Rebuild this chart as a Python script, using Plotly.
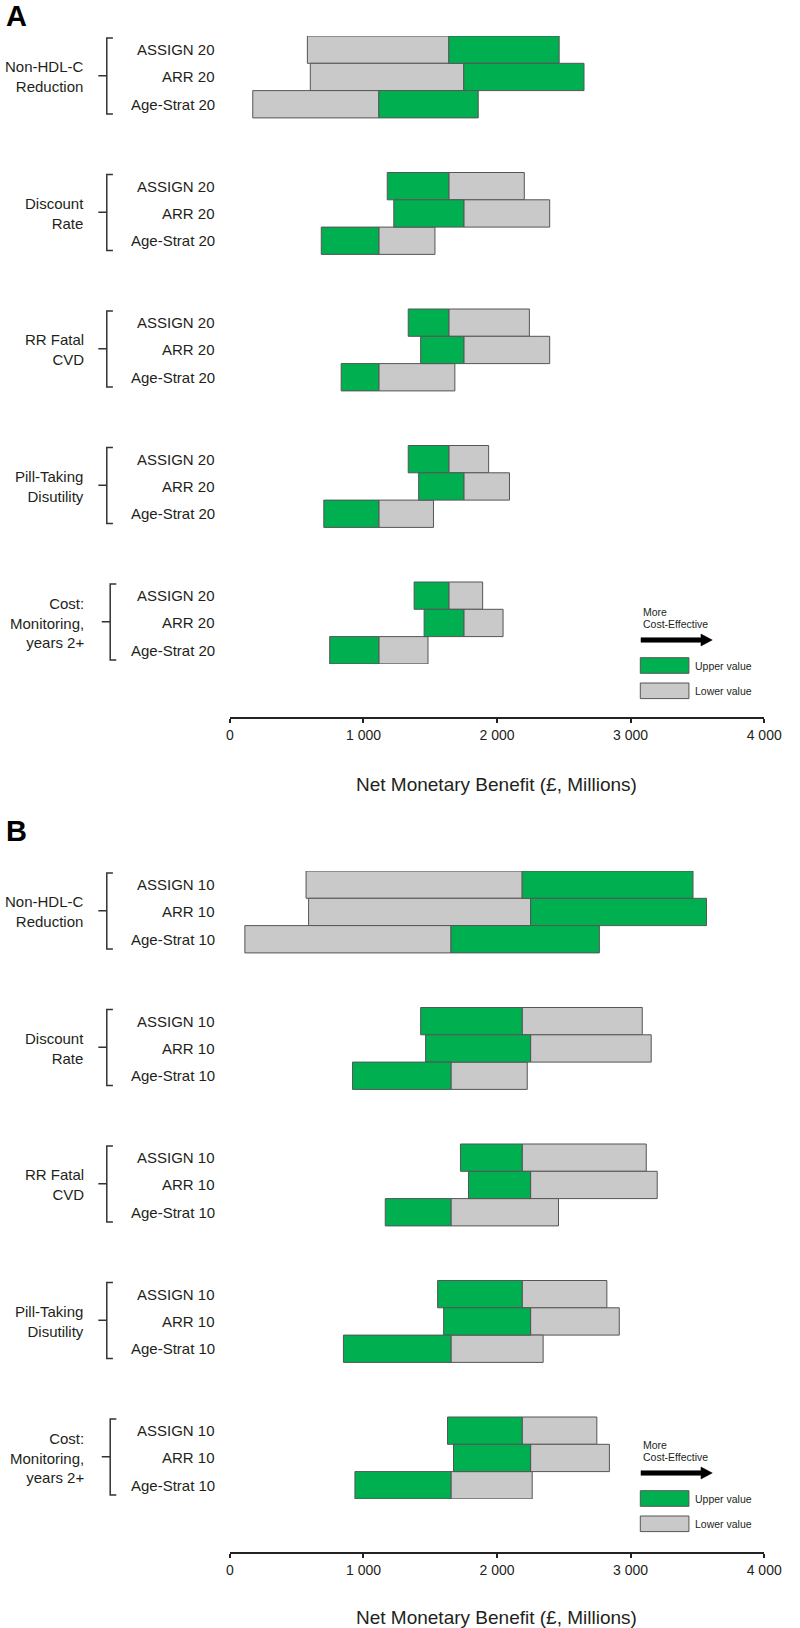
import plotly.graph_objects as go

# ---------------- data ----------------
group_labels = ["Non-HDL-C<br>Reduction", "Discount<br>Rate", "RR Fatal<br>CVD",
                "Pill-Taking<br>Disutility", "Cost:<br>Monitoring,<br>years 2+"]
strategies_A = ["ASSIGN 20", "ARR 20", "Age-Strat 20"]
strategies_B = ["ASSIGN 10", "ARR 10", "Age-Strat 10"]

# Panel A (20-year horizon): base case NMB per strategy, and results at upper / lower parameter values
base_A = [1639, 1751, 1115]
upper_A = [[2465, 2651, 1859], [1178, 1227, 684], [1335, 1428, 833], [1335, 1413, 703], [1379, 1454, 747]]
lower_A = [[580, 602, 171], [2204, 2394, 1535], [2242, 2394, 1684], [1937, 2093, 1524], [1892, 2045, 1483]]

# Panel B (10-year horizon)
base_B = [2188, 2251, 1655]
upper_B = [[3467, 3568, 2766], [1428, 1465, 918], [1726, 1786, 1163], [1555, 1600, 850], [1629, 1674, 936]]
lower_B = [[570, 589, 112], [3087, 3154, 2226], [3117, 3199, 2460], [2822, 2915, 2345], [2747, 2841, 2263]]

tick_vals = [0, 1000, 2000, 3000, 4000]
tick_text = ["0", "1 000", "2 000", "3 000", "4 000"]
x_title = "Net Monetary Benefit (£, Millions)"
panel_letters = ["A", "B"]

# ---------------- styling ----------------
W, H = 800, 1628
FONT = "Liberation Sans, Arial, Helvetica, sans-serif"
TXT = "#231F20"
GREEN = "#00B050"
GREY = "#C9C9C9"
EDGE = "#555555"


def px(x):
    return x / W


def py(y):
    return 1 - y / H


ROW_H = 27.3
GROUP_PITCH = 5  # rows per group incl. gap
N_ROWS = 4 * GROUP_PITCH + 3

fig = go.Figure()
annotations = []
shapes = []

panels = [
    dict(strat=strategies_A, base=base_A, up=upper_A, lo=lower_A, dy=0, ldy=0),
    dict(strat=strategies_B, base=base_B, up=upper_B, lo=lower_B, dy=835, ldy=833),
]

layout_axes = {}
for p, P in enumerate(panels):
    xa = "x" if p == 0 else "x2"
    ya = "y" if p == 0 else "y2"
    dy, ldy = P["dy"], P["ldy"]

    ys, bases, gx, ux = [], [], [], []
    for g in range(len(group_labels)):
        for r in range(3):
            ys.append(g * GROUP_PITCH + r)
            bases.append(P["base"][r])
            gx.append(P["lo"][g][r] - P["base"][r])
            ux.append(P["up"][g][r] - P["base"][r])

    fig.add_trace(go.Bar(orientation="h", y=ys, x=gx, base=bases, width=1,
                         marker=dict(color=GREY, line=dict(color=EDGE, width=1)),
                         xaxis=xa, yaxis=ya, showlegend=False, hoverinfo="skip"))
    fig.add_trace(go.Bar(orientation="h", y=ys, x=ux, base=bases, width=1,
                         marker=dict(color=GREEN, line=dict(color=EDGE, width=1)),
                         xaxis=xa, yaxis=ya, showlegend=False, hoverinfo="skip"))

    top = 36 + dy
    bottom = top + N_ROWS * ROW_H
    axis_y = 718.3 + dy
    dom_x = [px(232.3), px(781.7)]

    key = "" if p == 0 else "2"
    layout_axes["xaxis" + key] = dict(
        domain=dom_x, range=[0, 4000], anchor="free", position=py(axis_y),
        showline=True, linecolor="#222", linewidth=1.5, ticks="outside", ticklen=4,
        tickwidth=1.5, tickcolor="#222", tickvals=tick_vals, ticktext=tick_text,
        tickfont=dict(family=FONT, size=14, color=TXT), showgrid=False, zeroline=False,
        fixedrange=True)
    okey = "3" if p == 0 else "4"
    layout_axes["xaxis" + okey] = dict(
        domain=dom_x, range=[0, 4000], anchor="free", position=py(axis_y),
        overlaying=xa, side="top", showline=False, ticks="outside", ticklen=4,
        tickwidth=1.5, tickcolor="#222", tickvals=tick_vals, showticklabels=False,
        showgrid=False, zeroline=False, fixedrange=True)
    layout_axes["yaxis" + key] = dict(
        domain=[py(bottom), py(top)], range=[N_ROWS - 0.5, -0.5], visible=False,
        anchor=xa, fixedrange=True)

    # panel letter
    if p == 0:
        annotations.append(dict(text="<b>A</b>", x=px(2), y=1, xref="paper", yref="paper",
                                xanchor="left", yanchor="top", borderpad=0, borderwidth=0,
                                showarrow=False, font=dict(family=FONT, size=29, color="#000")))
    else:
        annotations.append(dict(text="<b>B</b>", x=px(2), y=py(831), xref="paper", yref="paper",
                                xanchor="left", yanchor="middle", borderpad=0, borderwidth=0,
                                showarrow=False, font=dict(family=FONT, size=29, color="#000")))

    # row and group labels, brackets
    for g in range(len(group_labels)):
        for r in range(3):
            annotations.append(dict(text=P["strat"][r], x=px(219), y=g * GROUP_PITCH + r,
                                    xref="paper", yref=ya, xanchor="right", yanchor="middle",
                                    showarrow=False, font=dict(family=FONT, size=15, color=TXT)))
        annotations.append(dict(text=group_labels[g], x=px(84), y=g * GROUP_PITCH + 1,
                                xref="paper", yref=ya, xanchor="right", yanchor="middle",
                                align="right", showarrow=False,
                                font=dict(family=FONT, size=15, color=TXT)))
        shift = 3.5 if g == len(group_labels) - 1 else 0
        xv, xs, xn = px(105.7 + shift), px(112 + shift), px(97 + shift)
        y0 = g * GROUP_PITCH - 0.43
        y1 = g * GROUP_PITCH + 2.36
        yn = g * GROUP_PITCH + 0.96
        path = "M %f,%f L %f,%f L %f,%f L %f,%f M %f,%f L %f,%f" % (
            xs, y0, xv, y0, xv, y1, xs, y1, xv, yn, xn, yn)
        shapes.append(dict(type="path", path=path, xref="paper", yref=ya,
                           line=dict(color="#333", width=1.5)))

    # legend block
    annotations.append(dict(text="More", x=px(654.7), y=py(611.7 + ldy), xref="paper", yref="paper",
                            xanchor="left", yanchor="middle", showarrow=False,
                            font=dict(family=FONT, size=10.5, color=TXT)))
    annotations.append(dict(text="Cost-Effective", x=px(654.7), y=py(624.3 + ldy), xref="paper",
                            yref="paper", xanchor="left", yanchor="middle", showarrow=False,
                            font=dict(family=FONT, size=10.5, color=TXT)))
    ay = 640 + ldy
    arrow = "M %f,%f L %f,%f L %f,%f L %f,%f L %f,%f L %f,%f L %f,%f Z" % (
        px(655), py(ay - 2.3), px(716.7), py(ay - 2.3), px(716.7), py(ay - 6),
        px(728.3), py(ay), px(716.7), py(ay + 6), px(716.7), py(ay + 2.3), px(655), py(ay + 2.3))
    shapes.append(dict(type="path", path=arrow, xref="paper", yref="paper",
                       fillcolor="#000", line=dict(color="#000", width=0.5)))
    for lbl, col, yc in [("Upper value", GREEN, 665.5), ("Lower value", GREY, 690.8)]:
        shapes.append(dict(type="rect", xref="paper", yref="paper",
                           x0=px(654.3), x1=px(704.3), y0=py(yc - 7.8 + ldy), y1=py(yc + 7.8 + ldy),
                           fillcolor=col, line=dict(color=EDGE, width=1)))
        annotations.append(dict(text=lbl, x=px(708), y=py(yc + ldy), xref="paper", yref="paper",
                                xanchor="left", yanchor="middle", showarrow=False,
                                font=dict(family=FONT, size=10.5, color=TXT)))

    # axis title
    annotations.append(dict(text=x_title, x=px(506), y=py(784 + ldy), xref="paper", yref="paper",
                            xanchor="center", yanchor="middle", showarrow=False,
                            font=dict(family=FONT, size=19, color=TXT)))

fig.update_layout(
    width=W, height=H, autosize=False,
    margin=dict(l=0, r=0, t=0, b=0, pad=0),
    paper_bgcolor="white", plot_bgcolor="rgba(0,0,0,0)",
    barmode="overlay", showlegend=False,
    annotations=annotations, shapes=shapes,
    font=dict(family=FONT, color=TXT),
    **layout_axes,
)

# remove the default 8px page margin so the figure sits at the window origin
fig.write_html("out.html", config={"displayModeBar": False},
               post_script="document.body.style.margin='0';")
